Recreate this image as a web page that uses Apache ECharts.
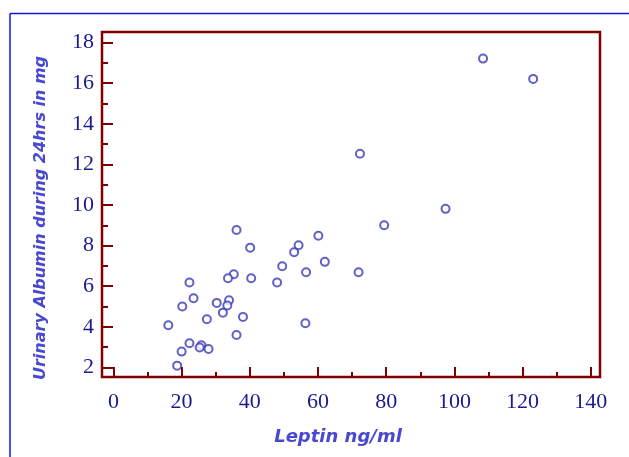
<!DOCTYPE html>
<html>
<head>
<meta charset="utf-8">
<script src="https://cdn.jsdelivr.net/npm/echarts@6/dist/echarts.min.js"></script>
<style>
html,body{margin:0;padding:0;background:#fff;}
#chart{width:629px;height:457px;}
</style>
</head>
<body>
<div id="chart"></div>
<script>
// Leptin (ng/ml) values
const leptin = [36.1, 40.1, 60.1, 54.3, 53.0, 49.5, 56.5, 48.0, 40.4, 35.3, 33.6, 22.3, 23.5, 20.2, 30.3, 33.9, 33.4, 32.1, 38.0, 27.4, 16.1, 56.3, 36.1, 22.3, 25.8, 25.3, 27.9, 20.0, 18.7, 72.3, 79.4, 62.0, 71.9, 108.4, 123.1, 97.4];
// Urinary albumin (mg / 24 h)
const albumin = [8.77, 7.90, 8.49, 8.02, 7.67, 6.98, 6.69, 6.18, 6.39, 6.59, 6.39, 6.18, 5.41, 5.00, 5.18, 5.31, 5.05, 4.70, 4.49, 4.37, 4.08, 4.18, 3.60, 3.19, 3.09, 2.98, 2.91, 2.78, 2.09, 12.52, 9.00, 7.20, 6.69, 17.21, 16.21, 9.81];
const xTicks = [0, 20, 40, 60, 80, 100, 120, 140];
const xMinorTicks = [10, 30, 50, 70, 90, 110, 130];
const yTicks = [2, 4, 6, 8, 10, 12, 14, 16, 18];
const yMinorTicks = [3, 5, 7, 9, 11, 13, 15, 17];
const xRange = [-3.35, 142.7];
const yRange = [1.53, 18.52];

const points = leptin.map((v, i) => [v, albumin[i]]);
const maroon = '#800000';
const labelColor = '#1a1a8a';
const titleColor = '#4848d0';

function makeAxis(type, ticks, minor, range, isMajor) {
  return {
    type: 'value', gridIndex: 0, min: range[0], max: range[1],
    position: type === 'x' ? 'bottom' : 'left',
    axisLine: {show: false, onZero: false},
    splitLine: {show: false},
    axisTick: {show: true, inside: true, length: isMajor ? (type === 'x' ? 10 : 11) : (type === 'x' ? 5 : 6),
               customValues: isMajor ? ticks : minor, lineStyle: {color: maroon, width: 2}},
    axisLabel: isMajor ? {show: true, customValues: ticks, color: labelColor,
               fontFamily: '"Liberation Serif", serif', fontSize: 22, margin: type === 'x' ? 14 : 8,
               showMinLabel: true, showMaxLabel: true}
             : {show: false}
  };
}

const chart = echarts.init(document.getElementById('chart'), null, {renderer: 'canvas'});
chart.setOption({
  backgroundColor: '#ffffff',
  animation: false,
  graphic: [
    {type: 'line', shape: {x1: 10, y1: 13.5, x2: 629, y2: 13.5}, style: {stroke: '#1414e6', lineWidth: 1.5}},
    {type: 'line', shape: {x1: 10, y1: 13.5, x2: 10, y2: 457}, style: {stroke: '#1414e6', lineWidth: 1.5}},
    {type: 'text', x: 338, y: 437, style: {text: 'Leptin ng/ml', fill: titleColor, align: 'center', verticalAlign: 'middle',
     font: 'oblique bold 18px "DejaVu Sans", sans-serif'}},
    {type: 'text', x: 41, y: 218, rotation: Math.PI / 2,
     style: {text: 'Urinary Albumin during 24hrs in mg', fill: titleColor, align: 'center', verticalAlign: 'middle',
     font: 'oblique bold 16px "DejaVu Sans", sans-serif'}}
  ],
  grid: [
    {left: 102, right: 29, top: 32, bottom: 80, show: true, borderColor: maroon, borderWidth: 2.5, backgroundColor: 'transparent'}
  ],
  xAxis: [
    makeAxis('x', xTicks, xMinorTicks, xRange, true),
    makeAxis('x', xTicks, xMinorTicks, xRange, false)
  ],
  yAxis: [
    makeAxis('y', yTicks, yMinorTicks, yRange, true),
    makeAxis('y', yTicks, yMinorTicks, yRange, false)
  ],
  series: [{
    type: 'scatter',
    xAxisIndex: 0, yAxisIndex: 0,
    data: points,
    symbol: 'emptyCircle',
    symbolSize: 8,
    itemStyle: {color: '#3a3ab8', borderColor: '#3a3ab8', borderWidth: 1.4}
  }]
});
</script>
</body>
</html>
